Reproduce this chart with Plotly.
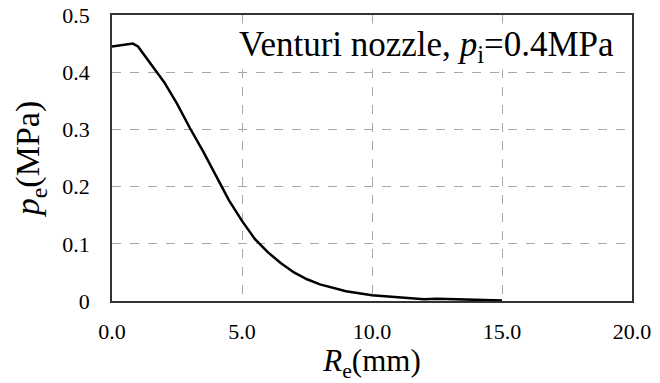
import plotly.graph_objects as go

re_mm = [0, 0.8, 1.0, 1.5, 2.0, 2.5, 3.0, 3.5, 4.0, 4.5, 5.0, 5.5, 6.0, 6.5, 7.0, 7.5, 8.0, 9.0, 10.0, 11.0, 12.0, 12.5, 13.0, 14.0, 15.0]
pe_mpa = [0.445, 0.450, 0.445, 0.415, 0.383, 0.345, 0.302, 0.262, 0.218, 0.176, 0.140, 0.108, 0.085, 0.066, 0.050, 0.038, 0.029, 0.017, 0.010, 0.006, 0.003, 0.004, 0.003, 0.002, 0.001]

x_ticks = [0, 5, 10, 15, 20]
x_tick_labels = ["0.0", "5.0", "10.0", "15.0", "20.0"]
y_ticks = [0, 0.1, 0.2, 0.3, 0.4, 0.5]
y_tick_labels = ["0", "0.1", "0.2", "0.3", "0.4", "0.5"]

font_family = "Liberation Serif"

fig = go.Figure()
fig.add_trace(go.Scatter(x=re_mm, y=pe_mpa, mode="lines",
                         line=dict(color="black", width=2.5), showlegend=False))

fig.update_layout(
    width=660, height=383,
    margin=dict(l=112, r=28, t=15, b=82, autoexpand=False),
    paper_bgcolor="white", plot_bgcolor="white",
    font=dict(family=font_family, color="black", size=22),
    xaxis=dict(range=[0, 20], tickvals=x_ticks, ticktext=x_tick_labels,
               showgrid=True, gridcolor="#a8a8a8", griddash="dash", gridwidth=1,
               showline=True, linecolor="#333", linewidth=1.5, mirror=True,
               ticks="", zeroline=False,
               tickfont=dict(size=22, family=font_family, color="black"), ticklabelstandoff=10,
               ticklabeloverflow="allow", automargin=False,
               title=dict(text="<i>R</i><sub>e</sub>(mm)",
                          font=dict(size=31, family=font_family, color="black"), standoff=13)),
    yaxis=dict(range=[0, 0.5], tickvals=y_ticks, ticktext=y_tick_labels,
               showgrid=True, gridcolor="#a8a8a8", griddash="dash", gridwidth=1,
               showline=True, linecolor="#333", linewidth=1.5, mirror=True,
               ticks="", zeroline=False,
               tickfont=dict(size=22, family=font_family, color="black"), ticklabelstandoff=16,
               ticklabeloverflow="allow", automargin=False,
               title=dict(text="<i>p</i><sub>e</sub>(MPa)",
                          font=dict(size=34, family=font_family, color="black"), standoff=12)),
    annotations=[dict(text="Venturi nozzle, <i>p</i><sub>i</sub>=0.4MPa",
                      xref="paper", yref="paper", x=0.97, y=0.89,
                      xanchor="right", yanchor="middle", showarrow=False,
                      font=dict(size=35, family=font_family, color="black"),
                      bgcolor="white")],
)

fig.write_html("out.html", config={"displayModeBar": False},
               post_script="document.body.style.margin='0';document.body.style.overflow='hidden';")
